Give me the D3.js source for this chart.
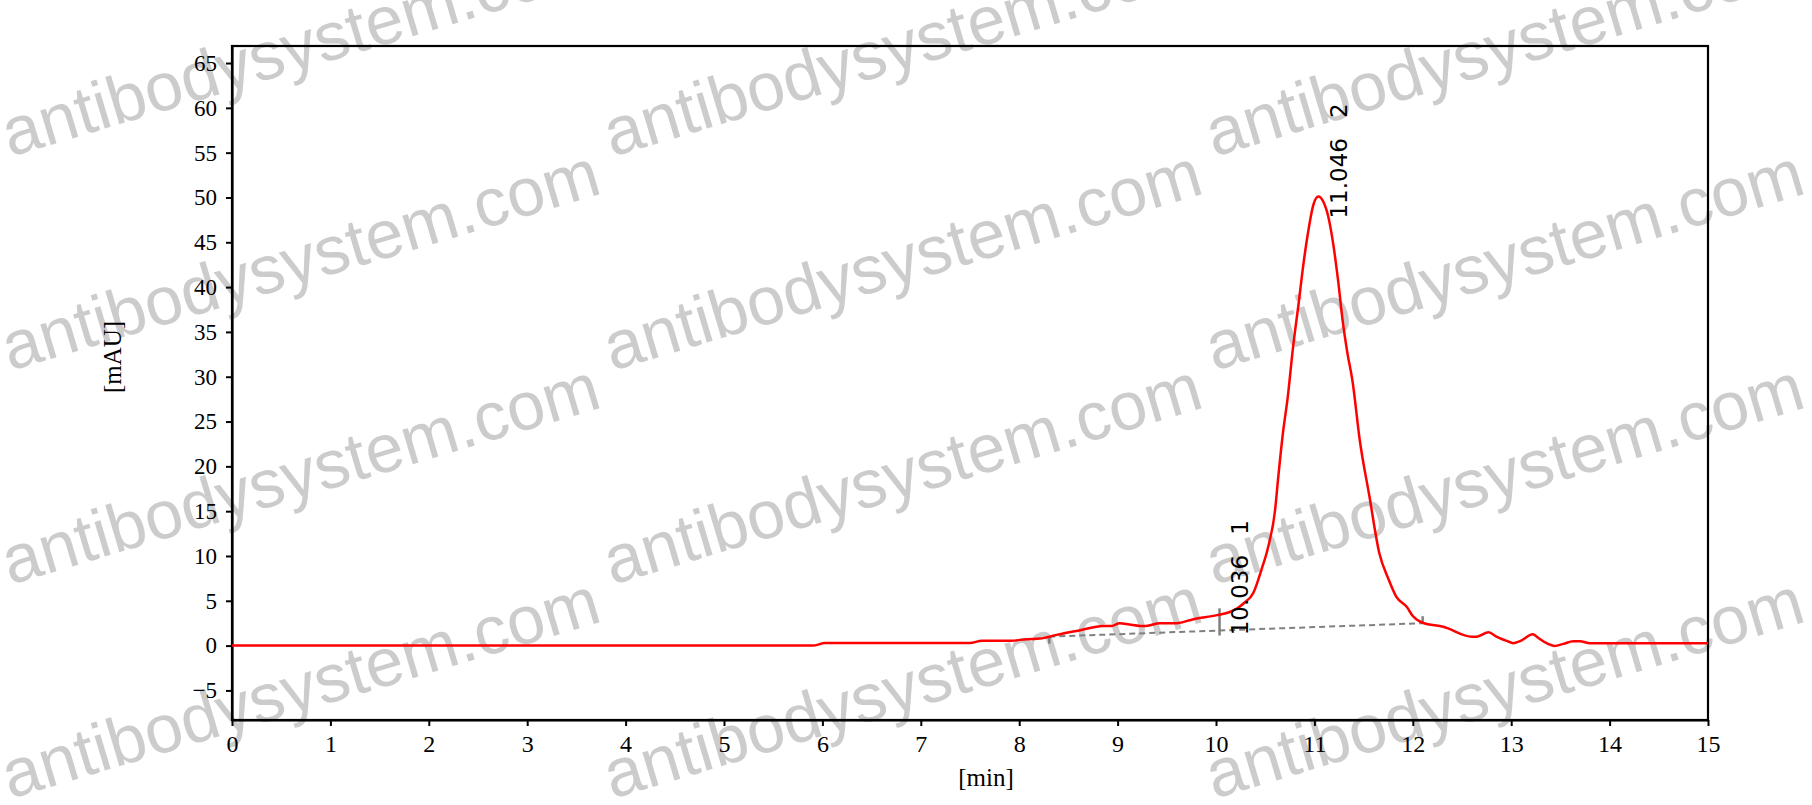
<!DOCTYPE html>
<html>
<head>
<meta charset="utf-8">
<script src="https://cdn.jsdelivr.net/npm/d3@7"></script>
<style>
  html, body { margin: 0; padding: 0; background: #fff; }
  svg { display: block; }
</style>
</head>
<body>
<div id="chart"></div>
<script>
// chromatogram trace (time in min, signal in mAU)
const time = [0, 5.90, 6.03, 7.50, 7.62, 7.92, 8.08, 8.21, 8.38, 8.62, 8.85, 8.94, 9.02, 9.12, 9.23, 9.29, 9.43, 9.60, 9.77, 10.01,
  10.14, 10.22, 10.28, 10.38, 10.46, 10.53, 10.60, 10.63, 10.68, 10.73, 10.78, 10.84, 10.89, 10.94, 10.99, 11.04, 11.09, 11.14, 11.19,
  11.24, 11.29, 11.33, 11.39, 11.46, 11.56, 11.66, 11.75, 11.83, 11.94, 12.00, 12.10, 12.31, 12.60, 12.65, 12.77, 12.85, 12.99, 13.02,
  13.09, 13.22, 13.27, 13.36, 13.44, 13.53, 13.63, 13.70, 13.80, 15.00];
const signal = [0, 0, 0.28, 0.28, 0.55, 0.55, 0.72, 0.78, 1.2, 1.72, 2.2, 2.2, 2.5, 2.35, 2.2, 2.2, 2.5, 2.5, 2.95, 3.4,
  3.75, 4.2, 4.7, 5.9, 8.4, 11.0, 15.1, 18.5, 23.7, 27.8, 33.0, 38.2, 42.7, 46.4, 49.2, 50.1, 49.55, 47.9, 44.9,
  40.8, 36.0, 33.0, 29.3, 23.0, 16.6, 10.3, 7.5, 5.5, 4.3, 3.3, 2.55, 2.1, 1.0, 1.0, 1.5, 1.0, 0.38, 0.27,
  0.5, 1.27, 0.9, 0.27, -0.03, 0.19, 0.49, 0.49, 0.27, 0.27];

// integration peaks
const peakTimes = [10.036, 11.046];
const peakHeights = [3.6, 50.1];
const peakIds = ["1", "2"];

// integration baseline (start / end)
const baseTimes = [8.306, 12.10];
const baseValues = [1.0, 2.5];

const xTicks = [0, 1, 2, 3, 4, 5, 6, 7, 8, 9, 10, 11, 12, 13, 14, 15];
const yTicks = [-5, 0, 5, 10, 15, 20, 25, 30, 35, 40, 45, 50, 55, 60, 65];
const xLabel = "[min]";
const yLabel = "[mAU]";
const watermark = "antibodysystem.com";

const W = 1812, H = 805;
const margin = { top: 46, right: 104, bottom: 85, left: 232 };
const serif = "Liberation Serif, Times New Roman, serif";

const svg = d3.select("#chart").append("svg")
  .attr("width", W)
  .attr("height", H);

// watermark behind everything
const wm = svg.append("g");
for (let r = 0; r < 4; r++) {
  for (let c = 0; c < 3; c++) {
    const wx = 10 + c * 602, wy = 157 + r * 214;
    wm.append("text")
      .attr("transform", `translate(${wx},${wy}) rotate(-16.7)`)
      .attr("font-family", "Liberation Sans, Arial, sans-serif")
      .attr("font-size", 68)
      .attr("fill", "#cccccc")
      .text(watermark);
  }
}

const x = d3.scaleLinear().domain([0, 15]).range([margin.left, W - margin.right]);
const y = d3.scaleLinear().domain([-8.3, 66.9]).range([H - margin.bottom, margin.top]);

// frame
svg.append("rect")
  .attr("x", x(0))
  .attr("y", y(66.9))
  .attr("width", x(15) - x(0))
  .attr("height", y(-8.3) - y(66.9))
  .attr("fill", "none")
  .attr("stroke", "#000")
  .attr("stroke-width", 2.2);

const xAxis = svg.append("g")
  .attr("transform", `translate(0,${H - margin.bottom})`)
  .call(d3.axisBottom(x).tickValues(xTicks).tickFormat(d3.format("d"))
    .tickSizeInner(6).tickSizeOuter(0).tickPadding(9));
xAxis.select(".domain").attr("stroke-width", 2.2);
xAxis.selectAll(".tick line").attr("stroke-width", 2);
xAxis.selectAll("text")
  .attr("font-family", serif)
  .attr("font-size", 24)
  .attr("fill", "#000");

const yAxis = svg.append("g")
  .attr("transform", `translate(${margin.left},0)`)
  .call(d3.axisLeft(y).tickValues(yTicks).tickFormat(d3.format("d"))
    .tickSizeInner(6).tickSizeOuter(0).tickPadding(9));
yAxis.select(".domain").attr("stroke-width", 2.2);
yAxis.selectAll(".tick line").attr("stroke-width", 2);
yAxis.selectAll("text")
  .attr("font-family", serif)
  .attr("font-size", 23)
  .attr("fill", "#000");

// axis titles
svg.append("text")
  .attr("x", 986)
  .attr("y", 786)
  .attr("text-anchor", "middle")
  .attr("font-family", serif)
  .attr("font-size", 25)
  .text(xLabel);

svg.append("text")
  .attr("transform", "translate(121,357) rotate(-90)")
  .attr("text-anchor", "middle")
  .attr("font-family", serif)
  .attr("font-size", 25)
  .text(yLabel);

// integration baseline
const baseY = t => baseValues[0] + (t - baseTimes[0]) / (baseTimes[1] - baseTimes[0]) * (baseValues[1] - baseValues[0]);

svg.append("line")
  .attr("x1", x(baseTimes[0])).attr("y1", y(baseValues[0]))
  .attr("x2", x(baseTimes[1])).attr("y2", y(baseValues[1]))
  .attr("stroke", "#808080")
  .attr("stroke-width", 2)
  .attr("stroke-dasharray", "6,4");

svg.append("line")
  .attr("x1", x(baseTimes[0])).attr("x2", x(baseTimes[0]))
  .attr("y1", y(baseValues[0])).attr("y2", y(baseValues[0]) + 7)
  .attr("stroke", "#808080").attr("stroke-width", 2.5);
svg.append("line")
  .attr("x1", x(baseTimes[1])).attr("x2", x(baseTimes[1]))
  .attr("y1", y(baseValues[1])).attr("y2", y(baseValues[1]) - 7)
  .attr("stroke", "#808080").attr("stroke-width", 2.5);

// drop line for the shoulder peak
svg.append("line")
  .attr("x1", x(peakTimes[0])).attr("x2", x(peakTimes[0]))
  .attr("y1", y(baseY(peakTimes[0])) + 5)
  .attr("y2", y(peakHeights[0]) - 5)
  .attr("stroke", "#808080").attr("stroke-width", 2.5);

// trace
const pts = time.map((t, i) => [t, signal[i]]);
const line = d3.line()
  .x(d => x(d[0]))
  .y(d => y(d[1]))
  .curve(d3.curveMonotoneX);

svg.append("path")
  .datum(pts)
  .attr("d", line)
  .attr("fill", "none")
  .attr("stroke", "#ff0000")
  .attr("stroke-width", 2.5)
  .attr("stroke-linejoin", "round");

// peak labels
peakTimes.forEach((t, i) => {
  const lbl = svg.append("text")
    .attr("transform", `translate(${x(t) + 28},${y(peakHeights[i]) + 22}) rotate(-90)`)
    .attr("font-family", "DejaVu Sans, Verdana, sans-serif")
    .attr("font-size", 23)
    .attr("fill", "#000");
  lbl.append("tspan").text(t.toFixed(3));
  lbl.append("tspan").attr("dx", 20).text(peakIds[i]);
});
</script>
</body>
</html>
